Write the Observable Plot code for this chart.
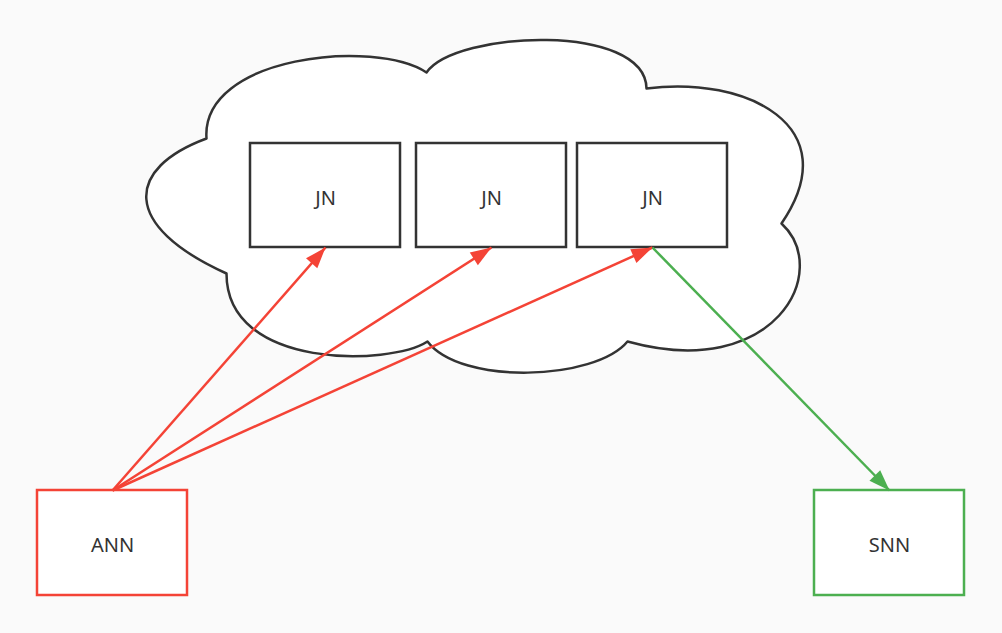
<!DOCTYPE html>
<html>
<head>
<meta charset="utf-8">
<script src="https://cdn.jsdelivr.net/npm/d3@7"></script>
<script src="https://cdn.jsdelivr.net/npm/@observablehq/plot@0.6"></script>
<style>
  html, body { margin: 0; padding: 0; background: #fafafa; }
</style>
</head>
<body>
<div id="chart"></div>
<script>
// cajas del diagrama
const boxNames = ["JN", "JN", "JN", "ANN", "SNN"];
const boxKind = ["jn", "jn", "jn", "ann", "snn"];
const boxLeft = [250, 416, 577, 37, 814];
const boxRight = [400, 566, 727, 187, 964];
const boxTop = [143, 143, 143, 490, 490];
const boxBottom = [247, 247, 247, 595, 595];

// flechas: caja origen -> caja destino
const arrowFrom = [3, 3, 3, 2];
const arrowTo = [0, 1, 2, 4];

// nube: punto inicial + (control, control, punto) por cada lobulo
const cloudX = [206, 200, 375, 426, 455, 645, 646, 745, 848, 781, 832, 775, 627, 595, 460, 427, 390, 226, 226, 120, 125, 206];
const cloudY = [138, 55, 38, 72, 30, 22, 88, 75, 125, 223, 270, 382, 341, 380, 385, 341, 365, 370, 273, 225, 168, 138];

const strokeByKind = {jn: "#333333", ann: "#f44336", snn: "#4caf50"};

const boxes = boxNames.map((name, i) => ({
  name, kind: boxKind[i],
  x1: boxLeft[i], x2: boxRight[i], y1: boxTop[i], y2: boxBottom[i],
  cx: (boxLeft[i] + boxRight[i]) / 2, cy: (boxTop[i] + boxBottom[i]) / 2
}));

const arrows = arrowFrom.map((f, i) => {
  const a = boxes[f], b = boxes[arrowTo[i]];
  const up = a.y1 > b.y1;
  return {
    x1: a.cx, y1: up ? a.y1 : a.y2,
    x2: b.cx, y2: up ? b.y2 : b.y1,
    color: b.kind === "snn" ? strokeByKind.snn : strokeByKind.ann
  };
});

const cloud = cloudX.map((x, i) => ({x, y: cloudY[i]}));

// curva bezier cubica para la nube
function bezierCurve(context) {
  let pts;
  return {
    areaStart() {}, areaEnd() {},
    lineStart() { pts = []; },
    point(x, y) { pts.push([x, y]); },
    lineEnd() {
      context.moveTo(pts[0][0], pts[0][1]);
      for (let i = 1; i + 2 < pts.length; i += 3) {
        context.bezierCurveTo(pts[i][0], pts[i][1], pts[i + 1][0], pts[i + 1][1], pts[i + 2][0], pts[i + 2][1]);
      }
      context.closePath();
    }
  };
}

// punta de flecha rellena
function blockArrow(color) {
  const m = d3.create("svg:marker")
    .attr("viewBox", "-24 -9 24 18")
    .attr("markerWidth", 24)
    .attr("markerHeight", 18)
    .attr("markerUnits", "userSpaceOnUse")
    .attr("orient", "auto")
    .attr("refX", 0)
    .attr("refY", 0)
    .attr("fill", color)
    .attr("stroke", "none");
  m.append("path").attr("d", "M0,0L-21,-7.5L-21,7.5Z");
  return m.node();
}

const chart = Plot.plot({
  width: 1002,
  height: 633,
  margin: 0,
  style: {background: "#fafafa", fontFamily: "'Noto Sans', 'Open Sans', sans-serif"},
  x: {domain: [0, 1002], range: [0, 1002], axis: null},
  y: {domain: [0, 633], range: [0, 633], axis: null},
  marks: [
    Plot.line(cloud, {x: "x", y: "y", curve: bezierCurve, fill: "white", stroke: "#333333", strokeWidth: 2.5}),
    Plot.rect(boxes, {x1: "x1", x2: "x2", y1: "y1", y2: "y2", fill: "white",
      stroke: d => strokeByKind[d.kind], strokeWidth: 2.5}),
    Plot.text(boxes, {x: "cx", y: "cy", text: "name", fontSize: 20, dy: 3, fill: "#333333"}),
    Plot.link(arrows, {x1: "x1", y1: "y1", x2: "x2", y2: "y2", stroke: "color", strokeWidth: 2.5, markerEnd: blockArrow})
  ]
});

d3.select("#chart").append(() => chart);
</script>
</body>
</html>
